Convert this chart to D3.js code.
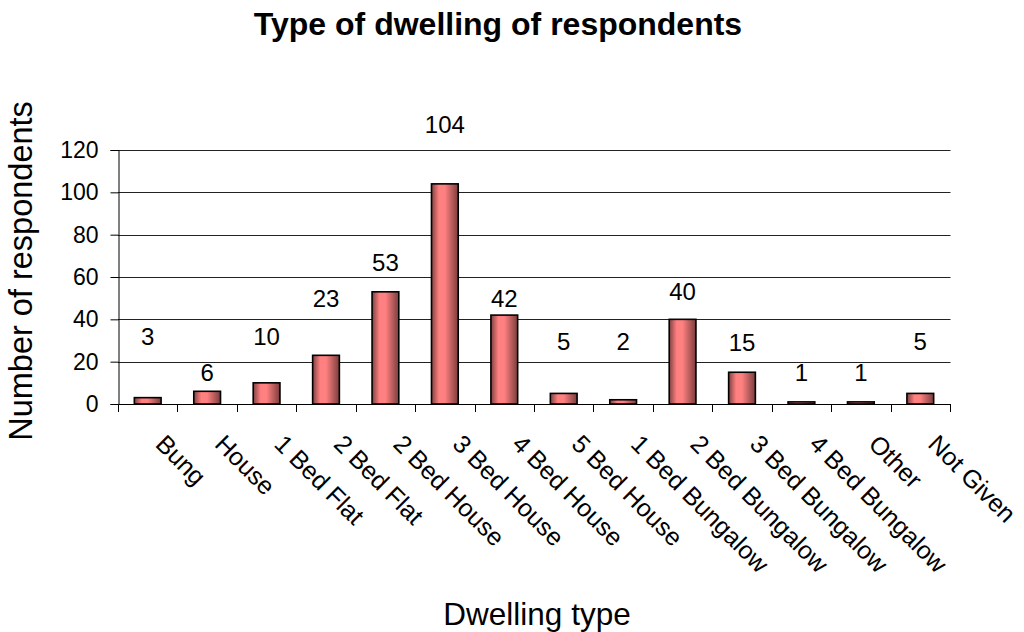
<!DOCTYPE html>
<html>
<head>
<meta charset="utf-8">
<script src="https://cdn.jsdelivr.net/npm/d3@7"></script>
<style>
  html, body { margin: 0; padding: 0; background: #fff; }
  svg { display: block; font-family: "Liberation Sans", Arial, sans-serif; }
</style>
</head>
<body>
<svg id="chart" width="1024" height="632"></svg>
<script>
// Dwelling types and respondent counts
const categories = [
  "Bung", "House", "1 Bed Flat", "2 Bed Flat", "2 Bed House", "3 Bed House",
  "4 Bed House", "5 Bed House", "1 Bed Bungalow", "2 Bed Bungalow",
  "3 Bed Bungalow", "4 Bed Bungalow", "Other", "Not Given"
];
const respondents = [3, 6, 10, 23, 53, 104, 42, 5, 2, 40, 15, 1, 1, 5];
const yTicks = [0, 20, 40, 60, 80, 100, 120];

// Height (in respondents) at which each value label sits
const labelAt = [31.8, 14.6, 31.8, 50, 66.6, 131.8, 50, 29.4, 29.4, 53, 28.8, 14.6, 14.6, 29.4];

const svg = d3.select("#chart");
const margin = { left: 118, right: 74, top: 150, bottom: 228 };
const W = 1024, H = 632;
const x0 = margin.left, x1 = W - margin.right;
const y0 = H - margin.bottom, y1 = margin.top;

const x = d3.scaleBand().domain(categories).range([x0, x1]).paddingInner(0.55).paddingOuter(0.275);
const xb = d3.scaleBand().domain(categories).range([x0, x1]); // full category slots
const y = d3.scaleLinear().domain([0, 120]).range([y0, y1]);

// Bar shading: darker edges, light centre
const defs = svg.append("defs");
const grad = defs.append("linearGradient").attr("id", "barShade")
  .attr("x1", "0").attr("x2", "1").attr("y1", "0").attr("y2", "0");
[[0, "#7e4040"], [0.28, "#ff8080"], [0.5, "#ff8080"], [1, "#7a3d3d"]].forEach(([o, c]) =>
  grad.append("stop").attr("offset", o).attr("stop-color", c));

// Gridlines
svg.append("g").selectAll("line").data(yTicks.filter(d => d > 0)).join("line")
  .attr("x1", x0).attr("x2", x1 + 0.5)
  .attr("y1", d => Math.round(y(d)) + 0.5).attr("y2", d => Math.round(y(d)) + 0.5)
  .attr("stroke", "#222").attr("stroke-width", 1);

// Y axis
const yAxis = svg.append("g").attr("transform", `translate(${x0 + 0.5},0)`)
  .call(d3.axisLeft(y).tickValues(yTicks).tickSize(8).tickPadding(12));
yAxis.select(".domain").attr("stroke", "#000");
yAxis.selectAll(".tick line").attr("stroke", "#000");
yAxis.selectAll(".tick text").attr("font-size", 23).attr("fill", "#000")
  .attr("font-family", "Liberation Sans, Arial, sans-serif");

// Bars
svg.append("g").selectAll("rect").data(respondents).join("rect")
  .attr("x", (d, i) => x(categories[i]))
  .attr("width", x.bandwidth())
  .attr("y", d => y(d))
  .attr("height", d => y(0) - y(d))
  .attr("fill", "url(#barShade)")
  .attr("stroke", "#000").attr("stroke-width", 1.6);

// X axis with ticks at category boundaries
const xAxisG = svg.append("g");
xAxisG.append("line").attr("x1", x0).attr("x2", x1 + 0.5)
  .attr("y1", Math.round(y0) + 0.5).attr("y2", Math.round(y0) + 0.5).attr("stroke", "#000");
const bounds = categories.map(c => xb(c)).concat([x1]);
xAxisG.selectAll("line.tk").data(bounds).join("line").attr("class", "tk")
  .attr("x1", d => Math.round(d) + 0.5).attr("x2", d => Math.round(d) + 0.5)
  .attr("y1", y0).attr("y2", y0 + 8).attr("stroke", "#000");

// Category labels, rotated 45°
svg.append("g").selectAll("text").data(categories).join("text")
  .attr("transform", c => `translate(${xb(c) + xb.bandwidth() / 2 + 19},${y0 + 29}) rotate(45)`)
  .attr("text-anchor", "start").attr("dy", "0.71em")
  .attr("font-size", 25).attr("fill", "#000")
  .text(c => c);

// Value labels
svg.append("g").selectAll("text").data(respondents).join("text")
  .attr("x", (d, i) => xb(categories[i]) + xb.bandwidth() / 2)
  .attr("y", (d, i) => y(labelAt[i]))
  .attr("dy", "0.35em").attr("text-anchor", "middle")
  .attr("font-size", 24).attr("fill", "#000")
  .text(d => d);

// Titles
svg.append("text").attr("x", 498).attr("y", 35).attr("text-anchor", "middle")
  .attr("font-size", 32).attr("font-weight", "bold").attr("fill", "#000")
  .text("Type of dwelling of respondents");

svg.append("text").attr("x", 537).attr("y", 625).attr("text-anchor", "middle")
  .attr("font-size", 31.5).attr("fill", "#000")
  .text("Dwelling type");

svg.append("text").attr("transform", "translate(32,271) rotate(-90)")
  .attr("text-anchor", "middle")
  .attr("font-size", 32.5).attr("fill", "#000")
  .text("Number of respondents");
</script>
</body>
</html>
